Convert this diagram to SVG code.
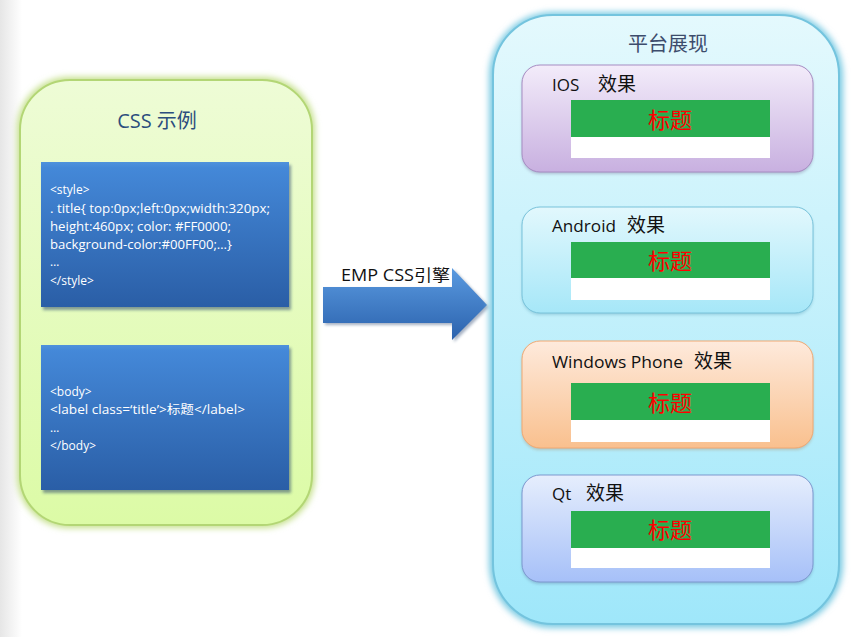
<svg xmlns="http://www.w3.org/2000/svg" width="866" height="637" viewBox="0 0 866 637">
<defs>
<linearGradient id="bgL" x1="0" y1="0" x2="1" y2="0"><stop offset="0" stop-color="#e6e6e6"/><stop offset="1" stop-color="#ffffff"/></linearGradient>
<linearGradient id="gGreen" x1="0" y1="0" x2="0" y2="1"><stop offset="0" stop-color="#eefcd6"/><stop offset="1" stop-color="#dcfba6"/></linearGradient>
<linearGradient id="gCyan" x1="0" y1="0" x2="0" y2="1"><stop offset="0" stop-color="#e4f9fd"/><stop offset="1" stop-color="#9fe7fa"/></linearGradient>
<linearGradient id="gBlue" x1="0" y1="0" x2="0" y2="1"><stop offset="0" stop-color="#4f92dc"/><stop offset="0.04" stop-color="#4488d8"/><stop offset="1" stop-color="#2a5ea6"/></linearGradient>
<linearGradient id="gArrow" x1="0" y1="0" x2="0" y2="1"><stop offset="0" stop-color="#5a9ae0"/><stop offset="1" stop-color="#2b62ad"/></linearGradient>
<linearGradient id="gPurple" x1="0" y1="0" x2="0" y2="1"><stop offset="0" stop-color="#f3ecfa"/><stop offset="1" stop-color="#c8b0e0"/></linearGradient>
<linearGradient id="gAnd" x1="0" y1="0" x2="0" y2="1"><stop offset="0" stop-color="#e2f8fd"/><stop offset="1" stop-color="#a6e7f8"/></linearGradient>
<linearGradient id="gOrange" x1="0" y1="0" x2="0" y2="1"><stop offset="0" stop-color="#feeadc"/><stop offset="1" stop-color="#f9c08e"/></linearGradient>
<linearGradient id="gQt" x1="0" y1="0" x2="0" y2="1"><stop offset="0" stop-color="#e6eefd"/><stop offset="1" stop-color="#a6c0f8"/></linearGradient>
<filter id="glow" x="-10%" y="-10%" width="120%" height="120%"><feGaussianBlur stdDeviation="3"/></filter>
<filter id="sh" x="-10%" y="-10%" width="120%" height="130%"><feGaussianBlur stdDeviation="1.5"/></filter>
<style>
.code{font-family:"Open Sans","Noto Sans CJK SC",sans-serif;font-size:12px;fill:#ffffff}
.ttl{font-family:"Open Sans","Noto Sans CJK SC",sans-serif;font-size:20px;text-anchor:middle}
.lbl{font-family:"Open Sans","Noto Sans CJK SC",sans-serif;font-size:17px;fill:#111111}
.cjk{font-size:19px}
.biaoti{font-family:"Noto Sans CJK SC",sans-serif;font-size:22px;fill:#ff0000;text-anchor:middle}
.bar{fill:#29ae50}
.wbar{fill:#ffffff}
</style>
</defs>
<rect x="0" y="0" width="866" height="637" fill="#ffffff"/>
<rect x="0" y="0" width="22" height="637" fill="url(#bgL)"/>

<g id="css-panel">
<rect x="17" y="77" width="298" height="451" rx="52" fill="#c4e08a" filter="url(#glow)"/>
<rect x="20" y="80" width="292" height="445" rx="50" fill="url(#gGreen)" stroke="#b3d675" stroke-width="2"/>
<text class="ttl" x="157" y="128" fill="#2c4e7e">CSS 示例</text>
</g>

<g id="style-box">
<rect x="43" y="165" width="248" height="145" fill="#1c3a66" opacity="0.5" filter="url(#sh)"/>
<rect x="41" y="162" width="248" height="145" fill="url(#gBlue)"/>
<text class="code" x="50" y="194">&lt;style&gt;</text>
<text class="code" x="50" y="213" textLength="220" lengthAdjust="spacingAndGlyphs">. title{ top:0px;left:0px;width:320px;</text>
<text class="code" x="50" y="231" textLength="181" lengthAdjust="spacingAndGlyphs">height:460px; color: #FF0000;</text>
<text class="code" x="50" y="249" textLength="182" lengthAdjust="spacingAndGlyphs">background-color:#00FF00;…}</text>
<text class="code" x="50" y="266">…</text>
<text class="code" x="50" y="285">&lt;/style&gt;</text>
</g>

<g id="body-box">
<rect x="43" y="348" width="248" height="145" fill="#1c3a66" opacity="0.5" filter="url(#sh)"/>
<rect x="41" y="345" width="248" height="145" fill="url(#gBlue)"/>
<text class="code" x="50" y="396">&lt;body&gt;</text>
<text class="code" x="50" y="414" textLength="195" lengthAdjust="spacingAndGlyphs">&lt;label class=‘title’&gt;标题&lt;/label&gt;</text>
<text class="code" x="50" y="432">…</text>
<text class="code" x="50" y="450">&lt;/body&gt;</text>
</g>

<g id="connectors">
<path d="M325 289 H454 V270 L489 307 L454 342 V325 H325 Z" fill="#1c3a66" opacity="0.4" filter="url(#sh)"/>
<path d="M323 287 H452 V268 L487 305 L452 340 V323 H323 Z" fill="url(#gArrow)"/>
<text x="341" y="281" font-family="Open Sans, Noto Sans CJK SC, sans-serif" font-size="16" fill="#111111" textLength="109" lengthAdjust="spacingAndGlyphs">EMP CSS引擎</text>
</g>

<g id="platform-panel">
<rect x="489" y="12" width="354" height="616" rx="64" fill="#7ccbe3" filter="url(#glow)"/>
<rect x="493" y="15" width="346" height="609" rx="60" fill="url(#gCyan)" stroke="#74c4de" stroke-width="2"/>
<text class="ttl" x="668" y="51" fill="#3d4c6c">平台展现</text>
</g>

<g id="ios">
<rect x="522" y="67" width="291" height="107" rx="18" fill="#6a5a86" opacity="0.35" filter="url(#sh)"/>
<rect x="522" y="65" width="291" height="107" rx="18" fill="url(#gPurple)" stroke="#a68cc2" stroke-width="1"/>
<text class="lbl" x="552" y="91">IOS<tspan class="cjk" x="598">效果</tspan></text>
<rect class="wbar" x="571" y="100" width="199" height="58"/>
<rect class="bar" x="571" y="100" width="199" height="37"/>
<text class="biaoti" x="670" y="128">标题</text>
</g>

<g id="android">
<rect x="522" y="209" width="291" height="106" rx="18" fill="#3a8aa6" opacity="0.3" filter="url(#sh)"/>
<rect x="522" y="207" width="291" height="106" rx="18" fill="url(#gAnd)" stroke="#78c2da" stroke-width="1"/>
<text class="lbl" x="552" y="232"><tspan textLength="64" lengthAdjust="spacingAndGlyphs">Android</tspan><tspan class="cjk" x="627">效果</tspan></text>
<rect class="wbar" x="571" y="242" width="199" height="58"/>
<rect class="bar" x="571" y="242" width="199" height="36"/>
<text class="biaoti" x="670" y="269">标题</text>
</g>

<g id="windows-phone">
<rect x="522" y="343" width="291" height="107" rx="18" fill="#a86a3a" opacity="0.3" filter="url(#sh)"/>
<rect x="522" y="341" width="291" height="107" rx="18" fill="url(#gOrange)" stroke="#f0a872" stroke-width="1"/>
<text class="lbl" x="552" y="368"><tspan textLength="131" lengthAdjust="spacingAndGlyphs">Windows Phone</tspan><tspan class="cjk" x="694">效果</tspan></text>
<rect class="wbar" x="571" y="383" width="199" height="59"/>
<rect class="bar" x="571" y="383" width="199" height="37"/>
<text class="biaoti" x="670" y="411">标题</text>
</g>

<g id="qt">
<rect x="522" y="477" width="291" height="107" rx="18" fill="#4a5a8a" opacity="0.3" filter="url(#sh)"/>
<rect x="522" y="475" width="291" height="107" rx="18" fill="url(#gQt)" stroke="#7d98cf" stroke-width="1"/>
<text class="lbl" x="552" y="500">Qt<tspan class="cjk" x="586">效果</tspan></text>
<rect class="wbar" x="571" y="511" width="199" height="57"/>
<rect class="bar" x="571" y="511" width="199" height="37"/>
<text class="biaoti" x="670" y="538">标题</text>
</g>
</svg>
